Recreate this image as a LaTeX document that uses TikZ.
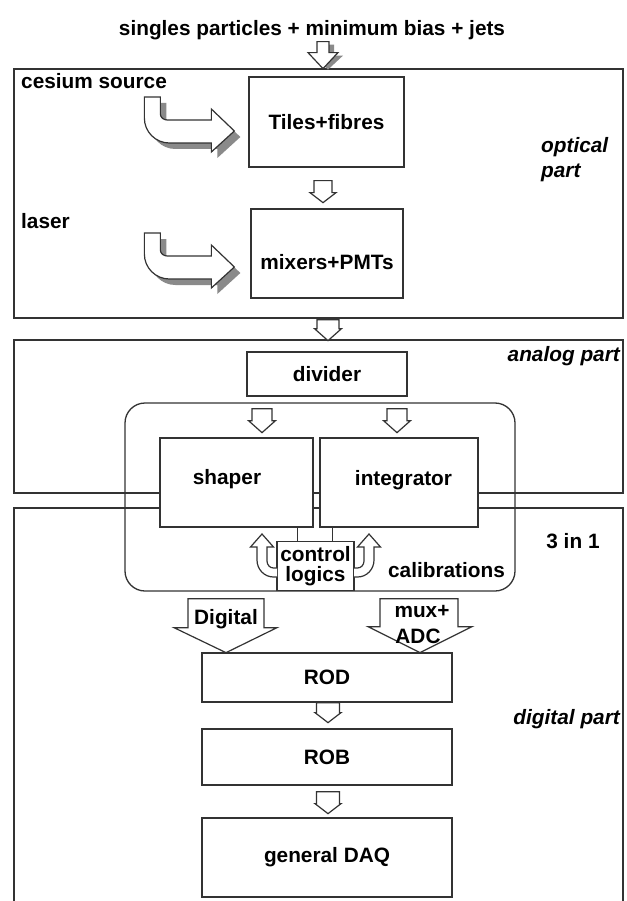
\documentclass[tikz,border=0pt]{standalone}
\usepackage{fontspec}
\setmainfont{Liberation Sans}
\usetikzlibrary{calc}
\definecolor{lc}{HTML}{333333}
\definecolor{shc}{HTML}{8A8A8A}
% block arrow pointing down: #1 top-centre point, #2 stem half width, #3 head half width,
% #4 stem length, #5 head length, #6 extra style
\newcommand\bdown[6]{\draw[barrow,#6] #1 ++(-#2,0) -- ++(2*#2,0) -- ++(0,#4) -- ++(#3-#2,0) -- ++(-#3,#5) -- ++(-#3,-#5) -- ++(#3-#2,0) -- cycle;}
\newcommand\sidearrowpath{(0,0) -- (16,0) -- (16,17) to[out=-90,in=180] (23,23) -- (67,23) -- (67,12) -- (90,34) -- (67,55) -- (67,46) -- (25,46) to[out=180,in=-90] (0,21) -- cycle}
\newcommand\ctrlarrowpath{(-38.5,2) -- (-42,2) to[out=180,in=-90] (-48.5,-5) -- (-48.5,-19) -- (-42,-19) -- (-53.5,-32) -- (-65,-19) -- (-58.5,-19) -- (-58.5,-6) to[out=-90,in=180] (-42,11) -- (-38.5,11)}
\begin{document}
\begin{tikzpicture}[x=1pt,y=-1pt,
  every node/.style={font=\fontsize{20.8}{25}\selectfont\bfseries, inner sep=0pt, text=black},
  itl/.style={font=\fontsize{20.8}{25}\selectfont\bfseries\itshape},
  frame/.style={draw=lc, line width=1.3pt, rectangle},
  box/.style={draw=lc, line width=1.3pt, fill=white, rectangle},
  barrow/.style={draw=lc, line width=1.2pt, fill=white, line join=miter},
  shad/.style={fill=shc, draw=none}]
\useasboundingbox (0,0) rectangle (626,901);
\fill[white] (0,0) rectangle (626,901);

% sections
\node[frame, minimum width=609, minimum height=249] (optical) at (318.5,193.5) {};
\node[frame, minimum width=609, minimum height=153] (analog) at (318.5,416.5) {};
\node[frame, minimum width=609, minimum height=407] (digital) at (318.5,711.5) {};

% 3 in 1 rounded frame
\node[draw=lc, line width=1.3pt, rounded corners=20pt, minimum width=390, minimum height=188] (cal) at (320,497) {};

% title
\node[anchor=base] (title) at (312,36) {singles particles + minimum bias + jets};
\bdown{($(title.south)+(16,4)$)}{6}{15}{11}{14}{shad}
\bdown{($(title.south)+(11,1)$)}{6}{15}{11}{16}{}

% optical part
\node[box, minimum width=155, minimum height=90] (tiles) at (326.5,122) {Tiles+fibres};
\node[box, minimum width=152, minimum height=89] (mix) at (327,253.5) {};
\node (mixt) at ($(mix.center)+(0,9)$) {mixers+PMTs};
\bdown{($(tiles.south)+(-3.5,13)$)}{9}{13}{12}{10}{}

\node[anchor=base west] (cesium) at (21,89) {cesium source};
\node[anchor=base west] (laser) at (21,229) {laser};
\begin{scope}[shift={($(tiles.west)+(-104,-25)$)}]
  \fill[shc] [shift={(6,6)}] \sidearrowpath;
  \draw[barrow] \sidearrowpath;
\end{scope}
\begin{scope}[shift={($(mix.west)+(-106,-20.5)$)}]
  \fill[shc] [shift={(6,6)}] \sidearrowpath;
  \draw[barrow] \sidearrowpath;
\end{scope}
\node[itl, anchor=base west] (opt1) at (541,153) {optical};
\node[itl, anchor=base west] (opt2) at (541,178) {part};

% optical -> analog
\bdown{($(optical.south)+(9.5,1)$)}{11}{13.5}{9}{12}{}

% analog part
\node[itl, anchor=base east] (anlbl) at (620,361) {analog part};
\node[box, minimum width=160, minimum height=44] (divider) at (327,374) {divider};
\bdown{($(divider.south)+(-65,12)$)}{10}{13.5}{12}{12}{}
\bdown{($(divider.south)+(70,12)$)}{10}{13.5}{12}{12}{}

\node[box, minimum width=153, minimum height=89] (shaper) at (236.5,482.5) {};
\node[box, minimum width=158, minimum height=89] (integ) at (399,482.5) {};
\node[anchor=base] (shapert) at (227,484) {shaper};
\node[anchor=base] (integt) at (403.5,485) {integrator};

% control logics
\node[box, minimum width=77, minimum height=49, align=center, font=\fontsize{20.8}{20}\selectfont\bfseries] (control) at (315.5,566) {control\\logics};
\coordinate (c1) at ($(control.north west)+(21,0)$);
\coordinate (c2) at ($(control.north west)+(56,0)$);
\draw[draw=lc, line width=1.3pt] (c1) -- (c1 |- shaper.south);
\draw[draw=lc, line width=1.3pt] (c2) -- (c2 |- integ.south);
\begin{scope}[shift={(control.center)}]
  \filldraw[barrow] \ctrlarrowpath;
\end{scope}
\begin{scope}[shift={(control.center)}, xscale=-1]
  \filldraw[barrow] \ctrlarrowpath;
\end{scope}
\node[anchor=base] (calib) at (446.5,577) {calibrations};
\node[anchor=base] (three) at (573,548) {3 in 1};

% digital part
\node[itl, anchor=base east] (dglbl) at (620,724) {digital part};
\node[box, minimum width=250, minimum height=49] (rod) at (327,677.5) {ROD};
\node[box, minimum width=250, minimum height=56] (rob) at (327,757) {ROB};
\node[box, minimum width=250, minimum height=79] (daq) at (327,857.5) {general DAQ};

\draw[barrow] ($(cal.south)+(-132,7)$) -- ++(76,0) -- ++(0,29) -- ++(13,0) -- ++(-51,25) -- ++(-52,-25) -- ++(14,0) -- cycle;
\draw[barrow] ($(cal.south)+(60,7)$) -- ++(78,0) -- ++(0,28) -- ++(14,0) -- ++(-52,26) -- ++(-52,-26) -- ++(12,0) -- cycle;
\node[anchor=base] (digt) at (226,624) {Digital};
\node[anchor=base] (muxt) at (422,617) {mux+};
\node[anchor=base] (adct) at (418,643) {ADC};

\bdown{($(rod.south)+(1,0)$)}{11.5}{13}{10}{10}{}
\bdown{($(rob.south)+(1,6)$)}{11.5}{13}{12}{10}{}
\end{tikzpicture}
\end{document}
